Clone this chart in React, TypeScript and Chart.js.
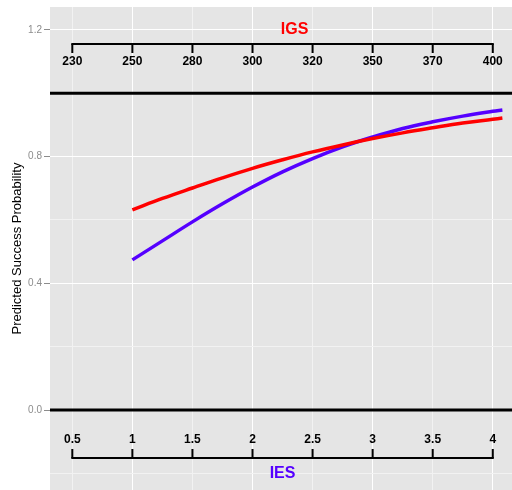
import React, { useEffect, useRef } from "react";
import { Chart, registerables } from "chart.js";

Chart.register(...registerables);

const iesValues = [1, 1.25, 1.5, 1.75, 2, 2.25, 2.5, 2.75, 3, 3.25, 3.5, 3.75, 4, 4.08];
// Predicted success probability, IGS model (red)
const igsProb = [0.632, 0.668, 0.701, 0.733, 0.763, 0.79, 0.815, 0.837, 0.857, 0.875, 0.891, 0.906, 0.918, 0.922];
// Predicted success probability, IES model (purple)
const iesProb = [0.474, 0.534, 0.594, 0.651, 0.704, 0.752, 0.794, 0.831, 0.862, 0.889, 0.91, 0.928, 0.943, 0.947];

// Reference lines (black)
const refLines = [0, 1];

// Annotation axes
const axisTickValues = [0.5, 1, 1.5, 2, 2.5, 3, 3.5, 4];
const igsTickLabels = ["230", "250", "280", "300", "320", "350", "370", "400"];
const iesTickLabels = ["0.5", "1", "1.5", "2", "2.5", "3", "3.5", "4"];

// Y grid / labels
const yGridValues = [-0.2, 0, 0.2, 0.4, 0.6, 0.8, 1.0, 1.2];
const yLabelValues = [0, 0.4, 0.8, 1.2];

const X_MIN = 0.3143;
const X_MAX = 4.16;
const Y_MIN = -0.2526;
const Y_MAX = 1.2725;

const RED = "#ff0000";
const PURPLE = "#5500ff";

const isIn = (v: number, arr: number[]) => arr.some((a) => Math.abs(a - v) < 1e-6);

const bgPlugin = {
  id: "panelBg",
  beforeDraw(chart: any) {
    const { ctx, chartArea } = chart;
    ctx.save();
    ctx.fillStyle = "#e5e5e5";
    ctx.fillRect(chartArea.left, chartArea.top, chartArea.right - chartArea.left, chartArea.bottom - chartArea.top);
    ctx.restore();
  },
};

const annotAxesPlugin = {
  id: "annotAxes",
  afterDatasetsDraw(chart: any) {
    const { ctx } = chart;
    const xs = chart.scales.x;
    const ys = chart.scales.y;
    const drawAxis = (
      axisVal: number,
      dir: number,
      labels: string[],
      title: string,
      titleColor: string,
      titleX: number,
      titleY: number
    ) => {
      const py = Math.round(ys.getPixelForValue(axisVal));
      const x0 = xs.getPixelForValue(axisTickValues[0]);
      const x1 = xs.getPixelForValue(axisTickValues[axisTickValues.length - 1]);
      ctx.save();
      ctx.strokeStyle = "#000";
      ctx.lineWidth = 2;
      ctx.beginPath();
      ctx.moveTo(x0 - 1, py);
      ctx.lineTo(x1 + 1, py);
      ctx.stroke();
      ctx.font = "bold 12px 'Liberation Sans', Arial, sans-serif";
      ctx.fillStyle = "#000";
      ctx.textAlign = "center";
      ctx.textBaseline = "middle";
      axisTickValues.forEach((v, i) => {
        const px = xs.getPixelForValue(v);
        ctx.beginPath();
        ctx.moveTo(px, py);
        ctx.lineTo(px, py + dir * 9);
        ctx.stroke();
        ctx.fillText(labels[i], px, py + dir * 18);
      });
      ctx.font = "bold 16px 'Liberation Sans', Arial, sans-serif";
      ctx.fillStyle = titleColor;
      ctx.fillText(title, xs.getPixelForValue(titleX), ys.getPixelForValue(titleY));
      ctx.restore();
    };
    drawAxis(1.155, 1, igsTickLabels, "IGS", RED, 2.35, 1.2);
    drawAxis(-0.152, -1, iesTickLabels, "IES", PURPLE, 2.25, -0.2);
  },
};

export default function App() {
  const canvasRef = useRef<HTMLCanvasElement | null>(null);

  useEffect(() => {
    if (!canvasRef.current) return;
    Chart.defaults.font.family = "'Liberation Sans', Arial, sans-serif";
    const toPts = (ys: number[]) => iesValues.map((x, i) => ({ x, y: ys[i] }));
    const chart = new Chart(canvasRef.current, {
      type: "line",
      data: {
        datasets: [
          {
            label: "IGS",
            data: toPts(igsProb),
            borderColor: RED,
            borderWidth: 3.5,
            pointRadius: 0,
            tension: 0.4,
            fill: false,
          },
          {
            label: "IES",
            data: toPts(iesProb),
            borderColor: PURPLE,
            borderWidth: 3.5,
            pointRadius: 0,
            tension: 0.4,
            fill: false,
          },
          ...refLines.map((v) => ({
            label: "ref" + v,
            data: [
              { x: X_MIN, y: v },
              { x: X_MAX, y: v },
            ],
            borderColor: "#000",
            borderWidth: 3,
            pointRadius: 0,
            fill: false,
          })),
        ],
      },
      options: {
        animation: false,
        responsive: false,
        layout: { padding: { top: 7, right: 0, bottom: 0, left: 0 } },
        plugins: {
          legend: { display: false },
          tooltip: { enabled: false },
        },
        scales: {
          x: {
            type: "linear",
            min: X_MIN,
            max: X_MAX,
            border: { display: false },
            ticks: { display: false },
            grid: {
              drawTicks: false,
              lineWidth: 1,
              color: (ctx: any) =>
                ctx.tick && Number.isInteger(ctx.tick.value) ? "#ffffff" : "#f2f2f2",
            },
            afterBuildTicks: (scale: any) => {
              scale.ticks = axisTickValues.map((v) => ({ value: v }));
            },
            afterFit: (scale: any) => {
              scale.height = 0;
              scale.paddingLeft = 0;
              scale.paddingRight = 0;
            },
          },
          y: {
            type: "linear",
            min: Y_MIN,
            max: Y_MAX,
            border: { display: false },
            title: {
              display: true,
              text: "Predicted Success Probability",
              color: "#000",
              font: { size: 13 },
              padding: { top: 10, bottom: 0 },
            },
            ticks: {
              color: "#8c8c8c",
              font: { size: 10 },
              padding: 2,
              autoSkip: false,
              callback: (value: any) => (isIn(Number(value), yLabelValues) ? Number(value).toFixed(1) : ""),
            },
            grid: {
              drawTicks: true,
              tickLength: 6,
              lineWidth: 1,
              color: (ctx: any) =>
                ctx.tick && isIn(ctx.tick.value, yLabelValues) ? "#ffffff" : "#f2f2f2",
              tickColor: (ctx: any) =>
                ctx.tick && isIn(ctx.tick.value, yLabelValues) ? "#8c8c8c" : "rgba(0,0,0,0)",
            },
            afterBuildTicks: (scale: any) => {
              scale.ticks = yGridValues.map((v) => ({ value: v }));
            },
            afterFit: (scale: any) => {
              scale.width = 50;
              scale.paddingTop = 0;
              scale.paddingBottom = 0;
            },
          },
        },
      },
      plugins: [bgPlugin, annotAxesPlugin],
    } as any);
    return () => chart.destroy();
  }, []);

  return (
    <div style={{ position: "fixed", left: 0, top: 0, width: 512, height: 490, background: "#fff" }}>
      <canvas ref={canvasRef} width={512} height={490} style={{ display: "block" }} />
    </div>
  );
}
